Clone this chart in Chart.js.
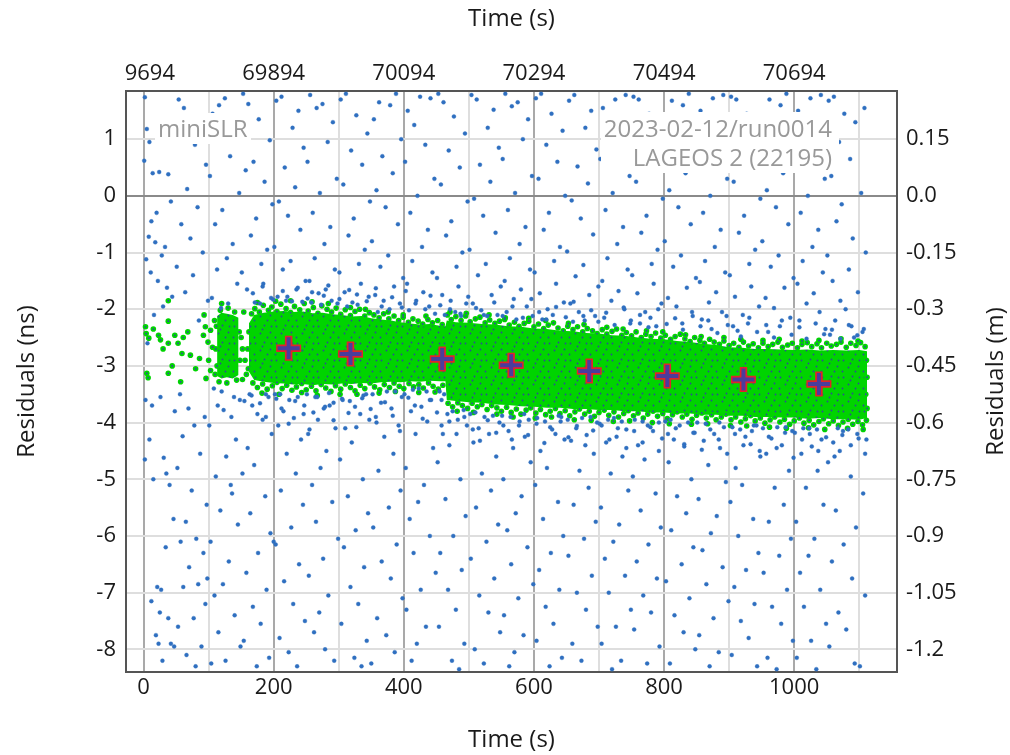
<!DOCTYPE html>
<html>
<head>
<meta charset="utf-8">
<script src="https://cdn.jsdelivr.net/npm/chart.js@4.4.0/dist/chart.umd.min.js"></script>
<style>
  html, body { margin: 0; padding: 0; background: #fff; }
  #wrap { width: 1010px; height: 755px; }
</style>
</head>
<body>
<div id="wrap"><canvas id="chart" width="1010" height="755"></canvas></div>
<script>
/* ============================================================
   DATA
============================================================ */

const xMin = -27, xMax = 1158;          // Time (s)
const yMin = -8.4, yMax = 1.85;         // Residuals (ns)
const nsToM = 0.15;                     // right axis: metres per ns

const topTickLabels = ["69694", "69894", "70094", "70294", "70494", "70694"];

const labelStation = "miniSLR";
const labelRun = "2023-02-12/run0014";
const labelTarget = "LAGEOS 2 (22195)";

// normal points (big crosses)
const normalT  = [223, 318, 459, 565, 685, 805, 922, 1038];
const normalNs = [-2.69, -2.79, -2.88, -2.99, -3.09, -3.18, -3.24, -3.32];

// dense core of the accepted returns: upper / lower edge
const bandT  = [162,170,185,200,215,230,245,260,275,290,305,320,335,350,365,380,395,410,425,440,455,464,466,480,500,520,540,560,580,600,620,640,660,680,700,720,740,760,780,800,820,840,860,880,900,920,940,960,980,1000,1020,1040,1060,1080,1100,1112];
const bandHi = [-2.25,-2.1,-2.06,-2.04,-2.03,-2.05,-2.04,-2.07,-2.06,-2.09,-2.1,-2.13,-2.12,-2.16,-2.18,-2.2,-2.23,-2.25,-2.27,-2.26,-2.29,-2.3,-2.2,-2.23,-2.24,-2.26,-2.27,-2.3,-2.31,-2.34,-2.35,-2.38,-2.39,-2.42,-2.43,-2.46,-2.47,-2.5,-2.52,-2.53,-2.56,-2.58,-2.61,-2.63,-2.67,-2.68,-2.7,-2.7,-2.71,-2.72,-2.71,-2.73,-2.72,-2.73,-2.72,-2.74];
const bandLo = [-3.1,-3.25,-3.28,-3.3,-3.31,-3.33,-3.32,-3.34,-3.32,-3.33,-3.31,-3.32,-3.3,-3.31,-3.29,-3.28,-3.29,-3.27,-3.28,-3.26,-3.27,-3.27,-3.6,-3.62,-3.64,-3.65,-3.68,-3.69,-3.71,-3.72,-3.74,-3.74,-3.76,-3.76,-3.78,-3.78,-3.8,-3.8,-3.82,-3.82,-3.84,-3.84,-3.86,-3.86,-3.88,-3.88,-3.9,-3.9,-3.91,-3.91,-3.93,-3.92,-3.94,-3.94,-3.95,-3.92];

// short early block of accepted returns
const colT  = [113, 120, 128, 137, 146];
const colHi = [-2.12, -2.06, -2.08, -2.1, -2.15];
const colLo = [-3.18, -3.22, -3.2, -3.22, -3.16];

// accepted returns outside the dense core (sparse start, ragged edges)
const signal = [
  [3,-2.31],[4,-2.43],[8,-2.51],[15,-2.35],[23,-2.46],[26,-2.54],[30,-2.7],[38,-2.6],[48,-2.46],[53,-2.6],[61,-2.5],[38,-2.21],[59,-2.78],[72,-2.81],[86,-2.87],[5,-3.13],[7,-3.21],[38,-3.13],[44,-3.0],[57,-3.28],[68,-2.4],[80,-3.05],
  [93,-2.1],[95,-2.31],[92,-2.46],[99,-2.58],[103,-2.37],[106,-2.67],[100,-2.9],[96,-3.22],[103,-3.08],[38,-1.85],[109,-2.2],[110,-3.15],[120,-1.9],
  [112,-2.3],[111,-2.7],[113,-3.0],[147,-2.4],[148,-2.9],[118,-2.02],[130,-1.98],[140,-2.05],[116,-3.28],[128,-3.3],[143,-3.25],
  [150,-2.5],[152,-2.7],[152,-3.24],[154,-2.05],[156,-2.9],[161,-3.05],[162,-2.4],[160,-2.7],[158,-3.15],
  [166,-2.08],[171,-1.99],[178,-2.05],[184,-1.93],[192,-2.02],[197,-1.96],[205,-2.04],[211,-1.91],[219,-1.99],[226,-2.06],[232,-1.95],[240,-2.01],[247,-1.9],[253,-2.03],[261,-1.97],[268,-2.07],[274,-1.94],[282,-2.0],[289,-2.05],[296,-1.98],
  [303,-2.09],[310,-2.01],[318,-2.11],[325,-2.04],[332,-2.0],[340,-2.12],[347,-2.06],[354,-2.1],[362,-2.15],[369,-2.08],[377,-2.17],[385,-2.12],[392,-2.2],[399,-2.14],[407,-2.23],[414,-2.17],[422,-2.21],[429,-2.26],[437,-2.18],[444,-2.24],[452,-2.2],[459,-2.27],
  [467,-2.1],[473,-2.18],[480,-2.13],[488,-2.2],[495,-2.12],[502,-2.22],[510,-2.17],[517,-2.14],[525,-2.24],[532,-2.19],[540,-2.25],[547,-2.21],[555,-2.18],[562,-2.28],[570,-2.23],[577,-2.3],[585,-2.25],[592,-2.21],[600,-2.31],[607,-2.26],
  [615,-2.34],[622,-2.28],[630,-2.24],[637,-2.33],[645,-2.38],[652,-2.3],[660,-2.36],[667,-2.31],[675,-2.4],[682,-2.34],[690,-2.38],[697,-2.43],[705,-2.36],[712,-2.44],[720,-2.39],[727,-2.35],[735,-2.46],[742,-2.41],[750,-2.47],[757,-2.4],
  [765,-2.5],[772,-2.44],[780,-2.48],[787,-2.42],[795,-2.51],[802,-2.46],[810,-2.53],[817,-2.48],[825,-2.44],[832,-2.52],[840,-2.57],[847,-2.5],[855,-2.55],[862,-2.6],[870,-2.53],[877,-2.58],[885,-2.62],[892,-2.56],[900,-2.64],[907,-2.6],
  [915,-2.67],[922,-2.58],[930,-2.65],[937,-2.61],[945,-2.68],[952,-2.6],[960,-2.66],[967,-2.62],[975,-2.58],[982,-2.67],[990,-2.63],[997,-2.6],[1005,-2.68],[1012,-2.62],[1020,-2.59],[1027,-2.66],[1035,-2.61],[1042,-2.68],[1050,-2.6],[1057,-2.65],
  [1065,-2.62],[1072,-2.58],[1080,-2.67],[1087,-2.6],[1095,-2.64],[1102,-2.59],[1109,-2.66],[1111,-2.9],[1112,-3.2],[1110,-3.5],[1112,-3.75],
  [175,-1.88],[203,-1.86],[226,-1.85],[259,-1.87],[284,-1.9],[318,-1.97],[341,-2.0],[376,-2.05],[399,-2.1],[434,-2.12],[471,-2.05],[496,-2.07],[531,-2.1],[556,-2.15],[592,-2.16],[618,-2.2],
  [653,-2.25],[677,-2.27],[712,-2.32],[737,-2.35],[773,-2.38],[798,-2.4],[833,-2.45],[857,-2.48],[892,-2.5],[918,-2.53],[952,-2.55],[977,-2.53],[1012,-2.56],[1038,-2.55],[1072,-2.52],[1098,-2.56],
  [168,-3.3],[175,-3.38],[183,-3.32],[190,-3.41],[198,-3.35],[205,-3.29],[213,-3.4],[220,-3.34],[228,-3.43],[235,-3.37],[243,-3.31],[250,-3.42],[258,-3.36],[265,-3.44],[273,-3.33],[280,-3.39],[288,-3.45],[295,-3.35],[303,-3.41],[310,-3.32],
  [318,-3.38],[325,-3.44],[333,-3.34],[340,-3.4],[348,-3.3],[355,-3.37],[363,-3.42],[370,-3.33],[378,-3.38],[385,-3.3],[393,-3.36],[400,-3.4],[408,-3.31],[415,-3.37],[423,-3.33],[430,-3.39],[438,-3.3],[445,-3.36],[453,-3.41],[460,-3.34],
  [468,-3.66],[475,-3.72],[483,-3.65],[490,-3.7],[498,-3.75],[505,-3.66],[513,-3.72],[520,-3.68],[528,-3.77],[535,-3.7],[543,-3.74],[550,-3.8],[558,-3.73],[565,-3.82],[573,-3.76],[580,-3.85],[588,-3.78],[595,-3.74],[603,-3.83],[610,-3.77],
  [618,-3.86],[625,-3.8],[633,-3.75],[640,-3.84],[648,-3.79],[655,-3.88],[663,-3.81],[670,-3.76],[678,-3.85],[685,-3.8],[693,-3.89],[700,-3.82],[708,-3.78],[715,-3.87],[723,-3.81],[730,-3.9],[738,-3.84],[745,-3.79],[753,-3.88],[760,-3.83],
  [768,-3.92],[775,-3.85],[783,-3.8],[790,-3.89],[798,-3.84],[805,-3.93],[813,-3.86],[820,-3.81],[828,-3.9],[835,-3.85],[843,-3.94],[850,-3.87],[858,-3.83],[865,-3.92],[873,-3.86],[880,-3.95],[888,-3.9],[895,-3.85],[903,-3.95],[910,-3.9],
  [918,-3.99],[925,-3.93],[933,-3.88],[940,-3.97],[948,-3.92],[955,-4.01],[963,-3.95],[970,-3.9],[978,-3.99],[985,-3.94],[993,-4.03],[1000,-3.97],[1008,-3.92],[1015,-4.01],[1023,-3.96],[1030,-4.04],[1038,-3.98],[1045,-3.93],[1053,-4.02],[1060,-3.97],
  [1068,-4.05],[1075,-3.99],[1083,-3.94],[1090,-4.03],[1098,-3.98],[1105,-4.04],[1111,-3.96],
  [182,-3.48],[208,-3.5],[243,-3.47],[267,-3.52],[302,-3.5],[328,-3.5],[362,-3.48],[387,-3.45],[423,-3.47],[448,-3.46],[482,-3.8],[507,-3.82],[543,-3.85],[568,-3.9],[602,-3.92],[627,-3.9],
  [662,-3.95],[688,-3.96],[722,-3.98],[747,-3.97],[782,-4.0],[808,-4.02],[842,-4.03],[867,-4.02],[902,-4.05],[927,-4.06],[962,-4.08],[988,-4.1],[1022,-4.09],[1047,-4.12],[1082,-4.1],[1106,-4.12]
];

// rejected returns (noise)
const noise = [
  [2,1.74],[5,1.18],[1,0.62],[9,0.95],[14,0.4],[24,0.42],[38,0.38],[42,-0.1],[20,-0.3],[12,-0.45],[8,-0.72],[18,-0.82],[33,-0.9],[28,-1.05],[4,-1.12],[11,-1.35],[22,-1.5],[36,-1.62],[44,-1.78],[30,-1.95],[16,-2.1],[6,-2.6],[3,-3.6],[13,-3.7],[26,-3.55],[48,-3.8],[9,-4.3],[2,-4.65],[31,-4.62],[35,-4.9],[15,-5.0],[40,-5.1],[46,-5.7],[21,-6.9],[27,-6.95],[12,-7.15],[25,-7.35],[38,-7.45],[19,-7.75],[23,-7.9],[29,-8.2],[42,-7.9],[47,-7.95],[34,-6.2],
  [62,1.55],[88,1.3],[54,1.7],[79,0.9],[96,0.55],[67,0.12],[83,-0.2],[58,-0.5],[72,-0.75],[91,-1.0],[51,-1.25],[76,-1.4],[64,-1.7],[99,-1.85],[85,-2.2],[56,-3.5],[69,-3.75],[94,-3.9],[78,-4.05],[60,-4.24],[87,-4.55],[52,-4.8],[74,-5.2],[97,-5.45],[65,-5.75],[81,-6.05],[57,-6.1],[92,-6.3],[70,-6.55],[84,-6.85],[61,-6.9],[95,-7.2],[77,-7.45],[53,-7.6],[89,-7.95],[66,-8.1],[80,-8.3],[98,-6.75],
  [125,1.72],[106,1.45],[141,1.05],[116,1.6],[133,0.7],[102,0.35],[147,0.05],[121,-0.25],[110,-0.5],[137,-0.85],[128,-1.1],[113,-1.3],[144,-1.55],[105,-1.8],[130,-1.9],[119,-1.98],[139,-3.55],[108,-3.4],[148,-3.6],[123,-3.78],[135,-3.9],[114,-3.7],[101,-4.05],[142,-4.3],[127,-4.6],[111,-4.95],[136,-5.25],[118,-5.55],[145,-5.8],[103,-6.1],[131,-6.45],[122,-6.85],[109,-7.05],[140,-7.4],[115,-7.7],[149,-7.95],[126,-8.2],[104,-8.25],[134,-5.1],[120,-3.45],
  [153,1.8],[177,1.35],[161,1.62],[194,0.98],[169,0.6],[186,0.25],[157,0.45],[198,-0.15],[173,-0.4],[165,-0.7],[190,-0.95],[181,-1.2],[151,-1.35],[184,-1.55],[159,-1.65],[196,-1.8],[171,-1.88],[179,-1.9],[163,-3.5],[188,-3.5],[155,-3.62],[192,-3.55],[167,-3.7],[175,-3.85],[183,-3.95],[197,-4.2],[160,-4.45],[170,-4.75],[152,-4.9],[187,-5.3],[164,-5.6],[195,-5.95],[176,-6.3],[158,-6.65],[189,-6.95],[168,-7.25],[180,-7.55],[154,-7.85],[193,-8.15],[174,-8.3],
  [212,1.75],[238,1.5],[204,1.68],[229,1.2],[246,0.85],[217,0.5],[233,0.15],[208,-0.1],[222,-0.35],[241,-0.6],[201,-0.9],[226,-1.15],[214,-1.3],[249,-1.5],[235,-1.65],[206,-1.78],[219,-1.85],[244,-1.87],[228,-1.86],[210,-3.5],[237,-3.55],[202,-3.5],[224,-3.6],[247,-3.7],[215,-3.8],[231,-3.92],[207,-4.05],[242,-4.3],[220,-4.55],[234,-4.9],[211,-5.2],[245,-5.45],[227,-5.85],[203,-6.15],[239,-6.5],[216,-6.8],[230,-7.2],[248,-7.5],[209,-7.8],[223,-8.05],[236,-8.3],[200,-6.1],
  [275,1.62],[256,1.78],[291,1.3],[266,1.55],[283,0.95],[252,0.6],[297,0.3],[271,0.05],[260,-0.3],[287,-0.55],[278,-0.85],[263,-1.1],[294,-1.3],[255,-1.5],[280,-1.65],[269,-1.72],[289,-1.85],[258,-1.88],[298,-1.9],[273,-1.92],[285,-3.48],[264,-3.55],[251,-3.5],[292,-3.65],[277,-3.75],[261,-3.82],[286,-3.7],[268,-3.95],[295,-4.1],[253,-4.2],[281,-4.5],[272,-4.8],[259,-5.1],[290,-5.4],[265,-5.75],[299,-6.05],[276,-6.4],[254,-6.7],[284,-7.05],[270,-7.35],[262,-7.7],[279,-8.0],[293,-8.2],
  [303,1.7],[327,1.42],[311,1.8],[344,1.1],[319,0.8],[336,0.55],[307,0.2],[348,-0.1],[323,-0.4],[315,-0.7],[340,-0.95],[331,-1.2],[301,-1.35],[334,-1.55],[309,-1.7],[346,-1.78],[321,-1.88],[329,-1.92],[313,-1.95],[338,-3.52],[305,-3.58],[342,-3.5],[317,-3.62],[325,-3.72],[333,-3.85],[347,-3.95],[310,-4.1],[320,-4.35],[302,-4.65],[337,-5.0],[314,-5.3],[345,-5.6],[326,-5.9],[308,-6.2],[339,-6.55],[318,-6.9],[330,-7.2],[304,-7.55],[343,-7.85],[324,-8.15],[335,-8.3],
  [362,1.65],[388,1.8],[354,1.35],[379,1.6],[396,1.0],[367,0.7],[383,0.4],[358,0.1],[372,-0.2],[391,-0.5],[351,-0.8],[376,-1.05],[364,-1.25],[399,-1.45],[385,-1.6],[356,-1.75],[369,-1.85],[394,-1.9],[378,-2.0],[360,-2.05],[387,-3.45],[352,-3.5],[374,-3.45],[397,-3.55],[365,-3.65],[381,-3.75],[357,-3.9],[392,-4.05],[370,-4.25],[384,-4.55],[361,-4.85],[395,-5.2],[377,-5.5],[353,-5.85],[389,-6.15],[366,-6.45],[380,-6.75],[398,-7.1],[359,-7.45],[373,-7.75],[386,-8.05],[350,-8.25],
  [425,1.75],[406,1.5],[441,1.72],[416,1.25],[433,0.9],[402,0.6],[447,0.3],[421,0.0],[410,-0.3],[437,-0.6],[428,-0.9],[413,-1.15],[444,-1.35],[405,-1.55],[430,-1.7],[419,-1.85],[439,-1.95],[408,-2.02],[448,-2.08],[423,-3.4],[435,-3.45],[414,-3.42],[401,-3.5],[442,-3.6],[427,-3.72],[411,-3.8],[436,-3.98],[418,-4.2],[445,-4.45],[403,-4.8],[431,-5.1],[422,-5.4],[409,-5.7],[440,-6.0],[415,-6.3],[449,-6.65],[426,-6.95],[404,-7.3],[434,-7.6],[420,-7.9],[412,-8.2],
  [453,1.8],[477,1.4],[461,1.65],[494,1.1],[469,0.8],[486,0.5],[457,0.2],[498,-0.1],[473,-0.45],[465,-0.7],[490,-1.0],[481,-1.25],[451,-1.45],[484,-1.6],[459,-1.75],[496,-1.9],[471,-2.0],[479,-2.05],[463,-2.1],[488,-2.12],[455,-3.45],[462,-3.5],[492,-3.78],[467,-3.85],[475,-3.8],[458,-3.6],[483,-3.95],[497,-4.05],[460,-4.2],[470,-4.4],[452,-4.7],[487,-5.0],[464,-5.35],[495,-5.65],[476,-6.0],[456,-6.3],[489,-6.6],[468,-6.95],[480,-7.3],[454,-7.6],[493,-7.9],[474,-8.2],[485,-8.35],
  [512,1.7],[538,1.52],[504,1.78],[529,1.2],[546,0.85],[517,0.55],[533,0.25],[508,-0.05],[522,-0.35],[541,-0.65],[501,-0.95],[526,-1.2],[514,-1.4],[549,-1.6],[535,-1.75],[506,-1.9],[519,-2.02],[544,-2.1],[528,-2.12],[510,-3.82],[537,-3.88],[502,-3.85],[524,-3.9],[547,-4.0],[515,-4.1],[531,-4.2],[507,-4.35],[542,-4.6],[520,-4.9],[534,-5.2],[511,-5.5],[545,-5.8],[527,-6.1],[503,-6.4],[539,-6.75],[516,-7.05],[530,-7.35],[548,-7.7],[509,-8.0],[523,-8.25],
  [575,1.65],[556,1.8],[591,1.35],[566,1.58],[583,1.0],[552,0.65],[597,0.35],[571,0.05],[560,-0.25],[587,-0.55],[578,-0.85],[563,-1.1],[594,-1.3],[555,-1.5],[580,-1.65],[569,-1.82],[589,-1.95],[558,-2.05],[598,-2.12],[573,-2.18],[585,-3.85],[564,-3.9],[551,-3.88],[592,-3.95],[577,-4.05],[561,-4.15],[586,-4.25],[568,-4.45],[595,-4.7],[553,-5.0],[581,-5.3],[572,-5.6],[559,-5.9],[590,-6.2],[565,-6.5],[599,-6.85],[576,-7.1],[554,-7.4],[584,-7.75],[570,-8.05],[562,-8.3],
  [603,1.72],[627,1.45],[611,1.8],[644,1.15],[619,0.9],[636,0.6],[607,0.3],[648,0.0],[623,-0.3],[615,-0.6],[640,-0.9],[631,-1.15],[601,-1.35],[634,-1.55],[609,-1.72],[646,-1.88],[621,-2.0],[629,-2.1],[613,-2.18],[638,-3.88],[605,-3.92],[642,-3.9],[617,-3.98],[625,-4.08],[633,-4.2],[647,-4.3],[610,-4.5],[620,-4.8],[602,-5.1],[637,-5.4],[614,-5.7],[645,-6.0],[626,-6.3],[608,-6.6],[639,-6.95],[618,-7.25],[630,-7.55],[604,-7.85],[643,-8.15],[624,-8.3],
  [662,1.78],[688,1.5],[654,1.68],[679,1.2],[696,0.82],[667,0.52],[683,0.22],[658,-0.08],[672,-0.4],[691,-0.68],[651,-0.98],[676,-1.22],[664,-1.42],[699,-1.6],[685,-1.75],[656,-1.9],[669,-2.05],[694,-2.12],[678,-2.2],[660,-2.22],[687,-3.9],[652,-3.95],[674,-3.92],[697,-4.0],[665,-4.1],[681,-4.22],[657,-4.32],[692,-4.55],[670,-4.85],[684,-5.15],[661,-5.45],[695,-5.75],[677,-6.05],[653,-6.35],[689,-6.7],[666,-7.0],[680,-7.3],[698,-7.6],[659,-7.9],[673,-8.2],
  [725,1.7],[706,1.55],[741,1.78],[716,1.3],[733,0.95],[702,0.65],[747,0.35],[721,0.05],[710,-0.25],[737,-0.55],[728,-0.85],[713,-1.1],[744,-1.3],[705,-1.5],[730,-1.68],[719,-1.85],[739,-2.0],[708,-2.15],[748,-2.25],[723,-3.92],[735,-3.98],[714,-3.95],[701,-4.02],[742,-4.12],[727,-4.25],[711,-4.35],[736,-4.6],[718,-4.9],[745,-5.2],[703,-5.5],[731,-5.8],[722,-6.1],[709,-6.4],[740,-6.7],[715,-7.0],[749,-7.3],[726,-7.6],[704,-7.9],[734,-8.2],[720,-8.35],
  [753,1.75],[777,1.45],[761,1.7],[794,1.1],[769,0.85],[786,0.55],[757,0.25],[798,-0.05],[773,-0.35],[765,-0.65],[790,-0.95],[781,-1.2],[751,-1.4],[784,-1.55],[759,-1.72],[796,-1.9],[771,-2.05],[779,-2.15],[763,-2.25],[788,-2.3],[755,-3.95],[792,-4.0],[767,-3.98],[775,-4.05],[783,-4.15],[797,-4.28],[760,-4.4],[770,-4.65],[752,-4.95],[787,-5.25],[764,-5.55],[795,-5.85],[776,-6.15],[758,-6.45],[789,-6.75],[768,-7.05],[780,-7.35],[754,-7.65],[793,-7.95],[774,-8.25],
  [812,1.68],[838,1.8],[804,1.4],[829,1.6],[846,1.0],[817,0.7],[833,0.4],[808,0.1],[822,-0.2],[841,-0.5],[801,-0.8],[826,-1.05],[814,-1.25],[849,-1.45],[835,-1.62],[806,-1.8],[819,-1.95],[844,-2.12],[828,-2.25],[810,-3.95],[837,-4.0],[802,-3.98],[824,-4.05],[847,-4.18],[815,-4.3],[831,-4.42],[807,-4.7],[842,-5.0],[820,-5.3],[834,-5.6],[811,-5.9],[845,-6.2],[827,-6.5],[803,-6.8],[839,-7.1],[816,-7.4],[830,-7.7],[848,-8.0],[809,-8.25],
  [875,1.72],[856,1.5],[891,1.78],[866,1.25],[883,0.9],[852,0.6],[897,0.3],[871,0.0],[860,-0.3],[887,-0.6],[878,-0.9],[863,-1.15],[894,-1.35],[855,-1.52],[880,-1.7],[869,-1.88],[889,-2.05],[858,-2.18],[898,-2.28],[873,-2.35],[885,-4.0],[864,-4.02],[851,-4.0],[892,-4.08],[877,-4.2],[861,-4.32],[886,-4.45],[868,-4.75],[895,-5.05],[853,-5.35],[881,-5.65],[872,-5.95],[859,-6.25],[890,-6.55],[865,-6.85],[899,-7.15],[876,-7.45],[854,-7.75],[884,-8.05],[870,-8.3],
  [903,1.75],[927,1.45],[911,1.7],[944,1.15],[919,0.85],[936,0.55],[907,0.25],[948,-0.05],[923,-0.35],[915,-0.65],[940,-0.95],[931,-1.2],[901,-1.4],[934,-1.6],[909,-1.78],[946,-1.95],[921,-2.1],[929,-2.25],[913,-2.38],[938,-4.05],[905,-4.08],[942,-4.05],[917,-4.12],[925,-4.25],[933,-4.38],[947,-4.5],[910,-4.8],[920,-5.1],[902,-5.4],[937,-5.7],[914,-6.0],[945,-6.3],[926,-6.6],[908,-6.9],[939,-7.2],[918,-7.5],[930,-7.8],[904,-8.1],[943,-8.3],
  [962,1.7],[988,1.8],[954,1.35],[979,1.6],[996,1.0],[967,0.7],[983,0.4],[958,0.1],[972,-0.2],[991,-0.5],[951,-0.8],[976,-1.05],[964,-1.25],[999,-1.45],[985,-1.62],[956,-1.8],[969,-1.98],[994,-2.15],[978,-2.3],[960,-2.4],[987,-4.08],[952,-4.1],[974,-4.08],[997,-4.15],[965,-4.28],[981,-4.4],[957,-4.55],[992,-4.85],[970,-5.15],[984,-5.45],[961,-5.75],[995,-6.05],[977,-6.35],[953,-6.65],[989,-6.95],[966,-7.25],[980,-7.55],[998,-7.85],[959,-8.15],[973,-8.35],
  [1025,1.72],[1006,1.5],[1041,1.78],[1016,1.2],[1033,0.9],[1002,0.6],[1047,0.3],[1021,0.0],[1010,-0.3],[1037,-0.6],[1028,-0.9],[1013,-1.15],[1044,-1.35],[1005,-1.55],[1030,-1.72],[1019,-1.9],[1039,-2.05],[1008,-2.2],[1048,-2.35],[1023,-4.1],[1035,-4.12],[1014,-4.1],[1001,-4.18],[1042,-4.3],[1027,-4.42],[1011,-4.55],[1036,-4.85],[1018,-5.15],[1045,-5.45],[1003,-5.75],[1031,-6.05],[1022,-6.35],[1009,-6.65],[1040,-6.95],[1015,-7.25],[1049,-7.55],[1026,-7.85],[1004,-8.15],[1034,-8.35],
  [1053,1.68],[1077,1.45],[1061,1.75],[1094,1.3],[1108,1.55],[1069,0.95],[1086,0.65],[1057,0.35],[1103,0.05],[1073,-0.15],[1065,-0.45],[1090,-0.75],[1110,-1.0],[1051,-1.05],[1084,-1.3],[1059,-1.5],[1098,-1.7],[1071,-1.85],[1079,-2.0],[1063,-2.2],[1088,-2.3],[1105,-2.4],[1055,-2.45],[1092,-2.5],[1067,-4.1],[1075,-4.15],[1083,-4.12],[1097,-4.2],[1111,-4.3],[1060,-4.35],[1070,-4.5],[1052,-4.7],[1087,-4.95],[1106,-5.25],[1064,-5.55],[1095,-5.85],[1076,-6.15],[1058,-6.45],[1089,-6.75],[1109,-7.05],[1068,-7.35],[1080,-7.65],[1054,-7.95],[1093,-8.25],[1101,-8.3],
  [168,-1.72],[183,-1.6],[199,-1.83],[214,-1.68],[221,-1.78],[237,-1.62],[252,-1.81],[259,-1.7],[277,-1.76],[284,-1.58],[301,-1.82],[316,-1.66],[328,-1.74],[343,-1.86],[357,-1.63],[366,-1.95],[382,-1.79],[397,-1.97],[403,-1.68],[418,-1.9],[433,-2.0],[441,-1.76],[456,-1.93],
  [472,-1.85],[487,-2.08],[499,-1.78],[511,-1.98],[523,-2.1],[539,-1.88],[552,-2.12],[567,-1.95],[583,-2.15],[596,-1.82],[608,-2.05],[619,-2.18],[634,-1.96],[649,-2.14],[661,-1.87],[676,-2.12],[688,-2.02],[699,-2.22],
  [711,-2.06],[724,-2.28],[738,-1.97],[749,-2.2],[763,-2.1],[776,-2.32],[791,-2.0],[804,-2.26],[817,-2.16],[829,-2.36],[843,-2.05],[856,-2.3],[868,-2.2],[882,-2.42],[896,-2.12],
  [906,-2.3],[918,-2.48],[931,-2.15],[943,-2.4],[957,-2.28],[969,-2.5],[981,-2.2],[996,-2.45],[1008,-2.32],[1019,-2.52],[1033,-2.25],[1046,-2.44],[1058,-2.36],[1071,-2.52],[1084,-2.28],[1097,-2.46],[1107,-2.35],
  [166,-3.52],[179,-3.66],[188,-3.9],[204,-3.58],[212,-3.75],[223,-4.02],[233,-3.62],[246,-3.85],[255,-4.12],[267,-3.55],[279,-3.72],[292,-3.96],[306,-3.6],[315,-3.83],[327,-4.08],[336,-3.57],[349,-3.76],[358,-4.0],[371,-3.64],[383,-3.88],[394,-4.15],[407,-3.56],[417,-3.7],[429,-3.93],[440,-3.6],[451,-3.82],[458,-4.05],
  [470,-3.98],[481,-4.2],[493,-3.9],[506,-4.12],[517,-4.32],[529,-3.96],[542,-4.18],[553,-4.05],[566,-4.3],[578,-3.98],[591,-4.22],[604,-4.02],[616,-4.36],[628,-4.12],[641,-3.98],[653,-4.26],[666,-4.06],[679,-4.4],[691,-4.14],
  [704,-4.05],[716,-4.3],[729,-4.1],[742,-4.45],[754,-4.15],[767,-4.35],[779,-4.08],[792,-4.5],[806,-4.2],[818,-4.1],[831,-4.38],[845,-4.18],[858,-4.48],[871,-4.12],[884,-4.3],[897,-4.55],
  [909,-4.2],[922,-4.4],[935,-4.15],[948,-4.6],[961,-4.25],[973,-4.45],[986,-4.18],[999,-4.62],[1012,-4.3],[1024,-4.2],[1037,-4.5],[1049,-4.26],[1062,-4.6],[1074,-4.22],[1087,-4.4],[1099,-4.28],[1109,-4.55]
];


/* ============================================================
   HELPERS
============================================================ */

const pts = (ts, ys) => ts.map((t, i) => ({ x: t, y: ys[i] }));
const pairs = arr => arr.map(([t, y]) => ({ x: t, y: y }));

// texture for the dense core: green with the small blue centres of the dots
function coreTexture() {
    const tile = document.createElement("canvas");
    tile.width = 21;
    tile.height = 17;
    const g = tile.getContext("2d");
    g.fillStyle = "#00d400";
    g.fillRect(0, 0, 21, 17);
    g.fillStyle = "rgba(50,62,165,0.9)";
    [[3, 3], [12, 2], [18, 9], [8, 10], [15, 14], [2, 14], [10, 6], [19, 3]].forEach(([x, y]) => {
        g.beginPath();
        g.arc(x + 0.5, y + 0.5, 0.9, 0, Math.PI * 2);
        g.fill();
    });
    return g.createPattern(tile, "repeat");
}


/* ============================================================
   OVERLAY: text boxes, right title, clipped first top label
============================================================ */

const overlay = {
    id: "overlay",
    afterDatasetsDraw(chart) {
        const c = chart.ctx;
        const a = chart.chartArea;
        c.save();
        c.fillStyle = "#fff";
        c.fillRect(a.left + 29, a.top + 22, 96, 31);
        c.fillRect(a.right - 296, a.top + 21, 238, 61);
        c.font = '24px "Open Sans"';
        c.fillStyle = "#999";
        c.textBaseline = "alphabetic";
        c.textAlign = "left";
        c.fillText(labelStation, a.left + 32, a.top + 46);
        c.textAlign = "right";
        c.fillText(labelRun, a.right - 65, a.top + 46);
        c.fillText(labelTarget, a.right - 65, a.top + 75);
        c.restore();
    },
    afterDraw(chart) {
        const c = chart.ctx;
        const a = chart.chartArea;
        c.save();
        // first top label is cut at the frame
        c.fillStyle = "#fff";
        c.fillRect(0, a.top - 40, a.left - 1, 37);
        // right title reads upwards like the left one
        c.translate(a.right + 99, (a.top + a.bottom) / 2);
        c.rotate(-Math.PI / 2);
        c.font = '24px "Open Sans"';
        c.fillStyle = "#1a1a1a";
        c.textAlign = "center";
        c.textBaseline = "middle";
        c.fillText("Residuals (m)", 0, 0);
        c.restore();
    }
};


/* ============================================================
   CHART
============================================================ */

Chart.defaults.font.family = '"Open Sans", sans-serif';
Chart.defaults.font.size = 22;
Chart.defaults.color = "#1a1a1a";

const fillTex = coreTexture();
const edge = { showLine: true, pointRadius: 0, borderWidth: 1, borderColor: "rgba(0,0,0,0)", clip: 0 };

new Chart(document.getElementById("chart"), {
    type: "scatter",
    data: {
        datasets: [
            { ...edge, data: pts(bandT, bandHi), fill: "+1", backgroundColor: fillTex, order: 10 },
            { ...edge, data: pts(bandT, bandLo), fill: false, order: 10 },
            { ...edge, data: pts(colT, colHi), fill: "+1", backgroundColor: fillTex, order: 10 },
            { ...edge, data: pts(colT, colLo), fill: false, order: 10 },
            { data: pairs(signal), pointRadius: 2.8, backgroundColor: "#00d400", borderWidth: 0, clip: 0, order: 6 },
            { data: pairs(signal), pointRadius: 0.9, backgroundColor: "#3444a8", borderWidth: 0, clip: 0, order: 5 },
            { data: pairs(noise), pointRadius: 2, backgroundColor: "#2f6fc0", borderColor: "rgba(47,111,192,0.35)", borderWidth: 1, clip: 0, order: 4 },
            { data: pts(normalT, normalNs), pointStyle: "cross", pointRadius: 12.5, borderColor: "#e0242a", borderWidth: 7.5, order: 2 },
            { data: pts(normalT, normalNs), pointStyle: "cross", pointRadius: 11, borderColor: "#4b3c9c", borderWidth: 4, order: 1 }
        ]
    },
    options: {
        responsive: false,
        animation: false,
        events: [],
        layout: { padding: 0 },
        plugins: { legend: { display: false }, tooltip: { enabled: false } },
        scales: {
            x: {
                type: "linear", position: "bottom", min: xMin, max: xMax,
                afterFit: s => { s.height = 83; },
                ticks: {
                    stepSize: 100, includeBounds: false, autoSkip: false, padding: 3, maxRotation: 0,
                    callback: v => (v % 200 === 0 ? String(v) : "")
                },
                grid: {
                    drawTicks: false, lineWidth: 2,
                    color: c => (c.tick && c.tick.value % 200 === 0 ? "#a9a9a9" : "#dedede")
                },
                border: { color: "#555", width: 2 },
                title: { display: true, text: "Time (s)", font: { size: 24 }, padding: { top: 1, bottom: 0 } }
            },
            x2: {
                type: "linear", position: "top", min: xMin, max: xMax,
                afterFit: s => { s.height = 91; },
                ticks: {
                    stepSize: 100, includeBounds: false, autoSkip: false, padding: 4, maxRotation: 0,
                    callback: v => (v % 200 === 0 ? topTickLabels[v / 200] : "")
                },
                grid: { drawOnChartArea: false, drawTicks: false },
                border: { color: "#555", width: 2 },
                title: { display: true, text: "Time (s)", font: { size: 24 }, padding: { top: 5, bottom: 0 } }
            },
            y: {
                type: "linear", position: "left", min: yMin, max: yMax,
                afterFit: s => { s.width = 126; },
                ticks: { stepSize: 1, includeBounds: false, autoSkip: false, padding: 10 },
                grid: {
                    drawTicks: false, lineWidth: 2,
                    color: c => (c.tick && c.tick.value === 0 ? "#8a8a8a" : "#dedede")
                },
                border: { color: "#555", width: 2 },
                title: { display: true, text: "Residuals (ns)", font: { size: 24 }, padding: { top: 13, bottom: 0 } }
            },
            y2: {
                type: "linear", position: "right", min: yMin * nsToM, max: yMax * nsToM,
                afterFit: s => { s.width = 113; },
                ticks: {
                    stepSize: 0.15, includeBounds: false, autoSkip: false, padding: 9,
                    callback: v => (Math.abs(v) < 1e-9 ? "0.0" : String(Math.round(v * 100) / 100))
                },
                grid: { drawOnChartArea: false, drawTicks: false },
                border: { color: "#555", width: 2 }
            }
        }
    },
    plugins: [overlay]
});
</script>
</body>
</html>
